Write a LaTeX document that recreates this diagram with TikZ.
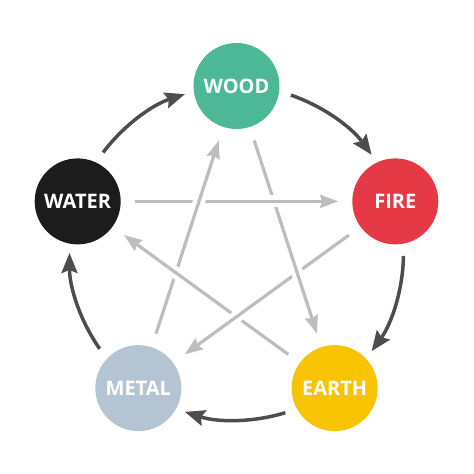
\documentclass[tikz,border=0pt]{standalone}
\usepackage{fontspec}
\setmainfont{Open Sans}
\usetikzlibrary{arrows.meta,calc}
\definecolor{woodc}{HTML}{4CB895}
\definecolor{waterc}{HTML}{1C1C1C}
\definecolor{firec}{HTML}{E53945}
\definecolor{metalc}{HTML}{B5C4D2}
\definecolor{earthc}{HTML}{F7C302}
\definecolor{outerc}{HTML}{4D4D4D}
\definecolor{innerc}{HTML}{BDBDBD}
\begin{document}
\begin{tikzpicture}[x=1pt,y=1pt,
  elem/.style={circle, minimum size=86pt, inner sep=0pt, text=white,
    font=\bfseries\fontsize{20}{20}\selectfont},
  cyc/.style={draw=outerc, line width=3.5pt, -{Stealth[length=20pt,width=16pt,inset=3pt]}},
  ctl/.style={draw=innerc, line width=3.2pt, -{Stealth[length=18pt,width=13pt,inset=2pt]},
    shorten <=14pt, shorten >=14pt},
  halo/.style={draw=white, line width=12pt},
  overline/.style={draw=innerc, line width=3.2pt}]
\useasboundingbox (-236.5,-221) rectangle (237.5,253);
\coordinate (ctr) at (0,0);
\node[elem, fill=woodc]  (wood)  at (90:167)  {WOOD};
\node[elem, fill=firec]  (fire)  at (18:167)  {FIRE};
\node[elem, fill=earthc] (earth) at (-54:167) {EARTH};
\node[elem, fill=metalc] (metal) at (-126:167) {METAL};
\node[elem, fill=waterc] (water) at (162:167) {WATER};
% generating cycle
\draw[cyc] ($(ctr)!1!-19:(water.center)$) arc[start angle=143, end angle=108, radius=167];
\draw[cyc] ($(ctr)!1!-19:(wood.center)$)  arc[start angle=71, end angle=36, radius=167];
\draw[cyc] ($(ctr)!1!-19:(fire.center)$)  arc[start angle=-1, end angle=-36, radius=167];
\draw[cyc] ($(ctr)!1!-19:(earth.center)$) arc[start angle=-73, end angle=-108, radius=167];
\draw[cyc] ($(ctr)!1!-19:(metal.center)$) arc[start angle=-145, end angle=-180, radius=167];
% controlling cycle
\draw[ctl] (water) -- (fire);
\draw[ctl] (metal) -- (wood);
\draw[ctl] (wood) -- (earth);
\draw[ctl] (earth) -- (water);
\draw[ctl] (fire) -- (metal);
% weaving at crossings
\begin{scope}
  \clip (intersection of metal.center--wood.center and water.center--fire.center) circle (10pt);
  \draw[halo] (metal.center) -- (wood.center);
  \draw[overline] (metal.center) -- (wood.center);
\end{scope}
\begin{scope}
  \clip (intersection of water.center--fire.center and wood.center--earth.center) circle (10pt);
  \draw[halo] (water.center) -- (fire.center);
  \draw[overline] (water.center) -- (fire.center);
\end{scope}
\begin{scope}
  \clip (intersection of wood.center--earth.center and fire.center--metal.center) circle (10pt);
  \draw[halo] (wood.center) -- (earth.center);
  \draw[overline] (wood.center) -- (earth.center);
\end{scope}
\begin{scope}
  \clip (intersection of fire.center--metal.center and earth.center--water.center) circle (10pt);
  \draw[halo] (fire.center) -- (metal.center);
  \draw[overline] (fire.center) -- (metal.center);
\end{scope}
\begin{scope}
  \clip (intersection of earth.center--water.center and metal.center--wood.center) circle (10pt);
  \draw[halo] (earth.center) -- (water.center);
  \draw[overline] (earth.center) -- (water.center);
\end{scope}
\end{tikzpicture}
\end{document}
